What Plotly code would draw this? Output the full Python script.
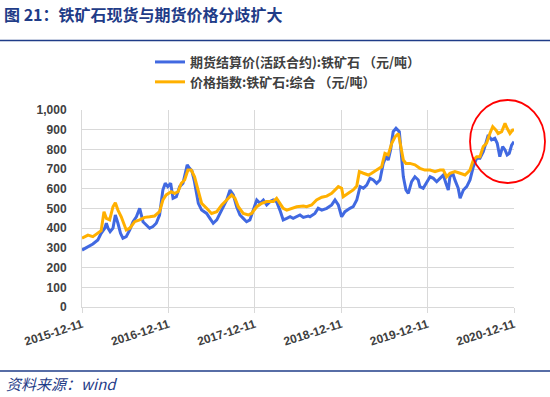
import plotly.graph_objects as go

# 期货结算价(活跃合约):铁矿石 (元/吨)
fut_dates = ["2015-12-11","2016-01-05","2016-01-26","2016-02-16","2016-03-01","2016-03-16","2016-03-23","2016-03-30",
             "2016-04-08","2016-04-20","2016-04-30","2016-05-11","2016-05-22","2016-06-01","2016-06-15","2016-06-30",
             "2016-07-14","2016-07-28","2016-08-11","2016-08-25","2016-09-08","2016-09-22","2016-10-06","2016-10-20",
             "2016-11-03","2016-11-17","2016-11-27","2016-12-08","2016-12-20","2016-12-30","2017-01-13","2017-01-27",
             "2017-02-10","2017-02-20","2017-02-28","2017-03-10","2017-03-20","2017-03-30","2017-04-07","2017-04-16",
             "2017-04-30","2017-05-21","2017-06-04","2017-06-18","2017-07-03","2017-07-16","2017-07-30","2017-08-14",
             "2017-08-28","2017-09-11","2017-09-25","2017-10-09","2017-10-23","2017-11-06","2017-11-20","2017-12-04",
             "2017-12-19","2018-01-02","2018-01-16","2018-01-30","2018-02-13","2018-02-27","2018-03-13","2018-03-27",
             "2018-04-10","2018-04-25","2018-05-09","2018-05-22","2018-06-06","2018-06-20","2018-07-04","2018-07-11",
             "2018-07-25","2018-08-01","2018-08-22","2018-09-05","2018-09-20","2018-10-11","2018-11-01","2018-11-15",
             "2018-11-29","2018-12-13","2018-12-27","2019-01-17","2019-01-31","2019-02-15","2019-03-01","2019-03-15",
             "2019-03-29","2019-04-12","2019-04-26","2019-05-10","2019-05-24","2019-06-07","2019-06-19","2019-06-28",
             "2019-07-08","2019-07-19","2019-07-31","2019-08-14","2019-08-21","2019-08-31","2019-09-11","2019-09-21",
             "2019-10-05","2019-10-19","2019-11-02","2019-11-09","2019-11-23","2019-12-08","2019-12-22","2020-01-05",
             "2020-01-19","2020-02-02","2020-02-16","2020-02-27","2020-03-08","2020-03-15","2020-03-27","2020-04-05",
             "2020-04-19","2020-04-27","2020-05-11","2020-05-25","2020-06-08","2020-06-22","2020-07-06","2020-07-20",
             "2020-08-03","2020-08-14","2020-08-24","2020-09-07","2020-09-21","2020-10-01","2020-10-12","2020-10-24",
             "2020-11-03","2020-11-12","2020-11-21","2020-12-01","2020-12-11"]
fut_price = [289,306,320,340,374,400,425,400,
             382,400,467,425,374,349,357,391,
             433,458,501,433,416,400,408,425,
             467,594,628,611,628,552,560,611,
             628,679,721,704,690,640,580,526,
             492,475,450,425,442,475,509,543,
             594,569,509,467,450,433,442,492,
             543,526,543,518,535,543,535,492,
             442,450,458,450,458,467,455,458,
             462,458,475,501,492,501,518,543,
             518,458,484,501,509,543,611,603,
             619,653,645,628,645,729,763,746,
             797,890,907,890,797,661,594,577,
             636,661,645,611,603,636,661,653,
             636,653,670,628,594,661,679,645,
             603,552,594,611,645,712,755,755,
             788,831,873,848,856,831,763,814,
             797,772,780,822,839]

# 价格指数:铁矿石:综合 (元/吨)
idx_dates = ["2015-12-11","2016-01-05","2016-01-26","2016-02-16","2016-03-01","2016-03-13","2016-03-23","2016-04-06",
             "2016-04-20","2016-04-30","2016-05-11","2016-05-25","2016-06-15","2016-06-30","2016-07-21","2016-08-11",
             "2016-09-01","2016-09-22","2016-10-13","2016-11-03","2016-11-17","2016-12-01","2016-12-22","2017-01-06",
             "2017-01-20","2017-02-03","2017-02-17","2017-03-03","2017-03-17","2017-03-31","2017-04-14","2017-04-30",
             "2017-05-21","2017-06-11","2017-07-03","2017-07-24","2017-08-14","2017-09-04","2017-09-18","2017-10-02",
             "2017-10-23","2017-11-13","2017-11-27","2017-12-19","2018-01-09","2018-01-30","2018-02-27","2018-03-13",
             "2018-03-27","2018-04-10","2018-04-25","2018-05-16","2018-06-06","2018-07-04","2018-07-18","2018-08-08",
             "2018-08-29","2018-09-20","2018-10-11","2018-11-01","2018-11-15","2018-11-29","2018-12-13","2018-12-20",
             "2019-01-10","2019-01-31","2019-02-15","2019-02-26","2019-03-15","2019-04-05","2019-04-19","2019-05-10",
             "2019-05-31","2019-06-14","2019-06-28","2019-07-13","2019-07-27","2019-08-10","2019-08-20","2019-08-31",
             "2019-09-11","2019-09-28","2019-10-19","2019-11-09","2019-11-30","2019-12-22","2020-01-12","2020-02-02",
             "2020-02-16","2020-03-01","2020-03-15","2020-04-05","2020-04-27","2020-05-18","2020-06-08","2020-06-22",
             "2020-07-06","2020-07-20","2020-08-03","2020-08-17","2020-08-31","2020-09-12","2020-09-26","2020-10-05",
             "2020-10-20","2020-11-03","2020-11-12","2020-11-24","2020-12-05","2020-12-11"]
idx_price = [349,365,357,374,387,484,450,442,
             509,529,492,458,391,400,433,442,
             455,458,462,484,543,569,585,577,
             585,628,645,695,695,661,600,526,
             501,475,484,518,543,569,552,509,
             475,467,475,509,526,535,535,552,
             526,501,492,501,509,513,509,518,
             543,557,563,577,594,611,603,560,
             577,594,614,687,679,670,679,695,
             712,780,772,831,864,881,814,746,
             729,729,722,704,695,695,687,695,
             695,661,679,687,679,670,695,746,
             763,763,814,831,881,915,898,881,
             890,932,907,881,898,898]

tick_dates = ["2015-12-11","2016-12-11","2017-12-11","2018-12-11","2019-12-11","2020-12-11"]
y_ticks = [0,100,200,300,400,500,600,700,800,900,1000]

series_names = ["期货结算价(活跃合约):铁矿石 （元/吨）", "价格指数:铁矿石:综合 （元/吨）"]
series_colors = ["#4169E1", "#FFB000"]

NAVY = "#1F3C88"
CJK = "Noto Sans CJK SC"
LAT = "Liberation Sans"

fig = go.Figure()
fig.add_trace(go.Scatter(x=fut_dates, y=fut_price, mode="lines", name=series_names[0],
                         line=dict(color=series_colors[0], width=3)))
fig.add_trace(go.Scatter(x=idx_dates, y=idx_price, mode="lines", name=series_names[1],
                         line=dict(color=series_colors[1], width=3)))

L, R, T, B = 82, 36, 110, 90
W, H = 550, 397
pw, ph = W - L - R, H - T - B

def px(xp):
    return (xp - L) / pw

def py(yp):
    return (H - B - yp) / ph

fig.update_layout(
    width=W, height=H,
    margin=dict(l=L, r=R, t=T, b=B, autoexpand=False),
    paper_bgcolor="white", plot_bgcolor="white",
    showlegend=True,
    legend=dict(x=px(150), y=py(47), xanchor="left", yanchor="top",
                font=dict(family=CJK, size=13, color="#404040", weight="bold"),
                bgcolor="rgba(0,0,0,0)", tracegroupgap=0, itemwidth=30),
    title=dict(text="图 21：铁矿石现货与期货价格分歧扩大", xref="container", yref="container",
               x=4 / W, y=1 - 15 / H, xanchor="left", yanchor="middle",
               font=dict(family=CJK, size=16, color=NAVY, weight="bold")),
    xaxis=dict(type="date", range=[tick_dates[0], tick_dates[-1]], automargin=False,
               tickvals=tick_dates, ticktext=tick_dates, tickangle=-18,
               showgrid=True, gridcolor="#D9D9D9", gridwidth=1,
               showline=True, linecolor="#D9D9D9", linewidth=1,
               ticks="outside", ticklen=5, tickcolor="#D9D9D9",
               tickfont=dict(family=LAT, size=12, color="#404040", weight="bold"),
               zeroline=False),
    yaxis=dict(range=[0, 1000], tickvals=y_ticks, tickformat=",", automargin=False,
               showgrid=True, gridcolor="#D9D9D9", gridwidth=1,
               showline=True, linecolor="#D9D9D9", linewidth=1,
               ticks="", ticklabelstandoff=12,
               tickfont=dict(family=LAT, size=12, color="#404040", weight="bold"),
               zeroline=False),
    shapes=[
        dict(type="line", xref="paper", yref="paper", x0=px(0), x1=px(W), y0=py(40.5), y1=py(40.5),
             line=dict(color=NAVY, width=1.5)),
        dict(type="line", xref="paper", yref="paper", x0=px(0), x1=px(W), y0=py(371), y1=py(371),
             line=dict(color=NAVY, width=1.5)),
        dict(type="circle", xref="paper", yref="paper", x0=px(470), x1=px(545), y0=py(183), y1=py(100),
             line=dict(color="#FF0000", width=1.8)),
    ],
    annotations=[
        dict(text="<i>资料来源：wind</i>", xref="paper", yref="paper", x=px(4), y=py(383),
             xanchor="left", yanchor="middle", showarrow=False,
             font=dict(family=CJK, size=15, color=NAVY)),
    ],
)

fig.write_html("out.html", config={"displayModeBar": False},
               post_script="document.body.style.margin='0px';document.body.style.overflow='hidden';")
